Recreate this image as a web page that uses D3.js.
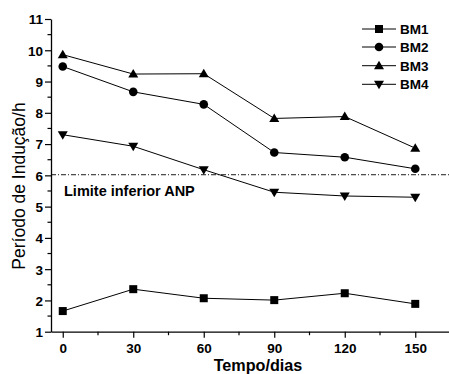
<!DOCTYPE html>
<html>
<head>
<meta charset="utf-8">
<script src="https://cdn.jsdelivr.net/npm/d3@7"></script>
<style>
  body { margin: 0; background: #fff; }
  text { font-family: "Liberation Sans", Arial, sans-serif; }
</style>
</head>
<body>
<div id="viz"></div>
<script>
var days = [0, 30, 60, 90, 120, 150];
var bm1 = [1.66, 2.36, 2.07, 2.01, 2.23, 1.89];
var bm2 = [9.48, 8.67, 8.27, 6.73, 6.58, 6.21];
var bm3 = [9.86, 9.24, 9.25, 7.82, 7.88, 6.87];
var bm4 = [7.30, 6.93, 6.18, 5.46, 5.34, 5.30];
var seriesNames = ["BM1", "BM2", "BM3", "BM4"];
var limitValue = 6.02;
var xTicks = [0, 30, 60, 90, 120, 150];
var yTicks = [1, 2, 3, 4, 5, 6, 7, 8, 9, 10, 11];

var width = 449, height = 374;
var svg = d3.select("#viz").append("svg").attr("width", width).attr("height", height);

var x = d3.scaleLinear().domain([-5, 165]).range([51, 450.5]);
var y = d3.scaleLinear().domain([1, 11]).range([331.7, 19]);

var series = [
  {name: seriesNames[0], values: bm1, shape: "square"},
  {name: seriesNames[1], values: bm2, shape: "circle"},
  {name: seriesNames[2], values: bm3, shape: "up"},
  {name: seriesNames[3], values: bm4, shape: "down"}
];

// axes
var xAxis = d3.axisBottom(x).tickValues(xTicks).tickSize(6).tickSizeOuter(0);
var yAxis = d3.axisLeft(y).tickValues(yTicks).tickSize(6).tickSizeOuter(0);

var gx = svg.append("g").attr("transform", "translate(0," + y(1) + ")").call(xAxis);
var gy = svg.append("g").attr("transform", "translate(" + x(-5) + ",0)").call(yAxis);

[gx, gy].forEach(function(g) {
  g.select(".domain").attr("stroke", "#000").attr("stroke-width", 1.3);
  g.selectAll(".tick line").attr("stroke", "#000").attr("stroke-width", 1.2);
  g.selectAll(".tick text").attr("fill", "#000").style("font-size", "13.5px").style("font-weight", "bold");
});
gx.selectAll(".tick text").attr("y", 21).attr("dy", 0);
gy.selectAll(".tick text").attr("x", -8).attr("dy", "0.36em");

// minor ticks
var xMinor = d3.range(15, 165, 30);
gx.selectAll(".minor").data(xMinor).enter().append("line")
    .attr("x1", function(d) { return x(d); }).attr("x2", function(d) { return x(d); })
    .attr("y1", 0).attr("y2", 3.5).attr("stroke", "#000").attr("stroke-width", 1.2);
var yMinor = d3.range(1.5, 11, 1);
gy.selectAll(".minor").data(yMinor).enter().append("line")
    .attr("y1", function(d) { return y(d); }).attr("y2", function(d) { return y(d); })
    .attr("x1", 0).attr("x2", -3.5).attr("stroke", "#000").attr("stroke-width", 1.2);

// axis titles
svg.append("text")
    .attr("x", 258).attr("y", 371)
    .attr("text-anchor", "middle")
    .style("font-size", "16.2px").style("font-weight", "bold")
    .text("Tempo/dias");

svg.append("text")
    .attr("transform", "translate(25,186) rotate(-90)")
    .attr("text-anchor", "middle")
    .style("font-size", "17.5px")
    .text("Período de Indução/h");

// limit line
svg.append("line")
    .attr("x1", x(-5)).attr("x2", width)
    .attr("y1", y(limitValue)).attr("y2", y(limitValue))
    .attr("stroke", "#000").attr("stroke-width", 0.9)
    .attr("stroke-dasharray", "5,2,1,2");

svg.append("text")
    .attr("x", 64).attr("y", 196)
    .style("font-size", "14.5px").style("font-weight", "bold")
    .text("Limite inferior ANP");

// markers
function drawMarker(g, shape) {
  if (shape == "square") {
    g.append("rect").attr("x", -4).attr("y", -4).attr("width", 8).attr("height", 8).attr("fill", "#000");
  } else if (shape == "circle") {
    g.append("circle").attr("r", 4.3).attr("fill", "#000");
  } else if (shape == "up") {
    g.append("path").attr("d", "M0,-5 L5,3.5 L-5,3.5 Z").attr("fill", "#000");
  } else {
    g.append("path").attr("d", "M0,5 L5,-3.5 L-5,-3.5 Z").attr("fill", "#000");
  }
}

var line = d3.line()
    .x(function(d, i) { return x(days[i]); })
    .y(function(d) { return y(d); });

series.forEach(function(s) {
  svg.append("path")
      .attr("d", line(s.values))
      .attr("fill", "none").attr("stroke", "#000").attr("stroke-width", 1);
  s.values.forEach(function(v, i) {
    var g = svg.append("g").attr("transform", "translate(" + x(days[i]) + "," + y(v) + ")");
    drawMarker(g, s.shape);
  });
});

// legend
var legendY = [29, 47, 65.7, 84.3];
series.forEach(function(s, i) {
  var lg = svg.append("g").attr("transform", "translate(0," + legendY[i] + ")");
  lg.append("line").attr("x1", 362).attr("x2", 396).attr("y1", 0).attr("y2", 0)
      .attr("stroke", "#000").attr("stroke-width", 1);
  var m = lg.append("g").attr("transform", "translate(379,0)");
  drawMarker(m, s.shape);
  lg.append("text").attr("x", 400).attr("y", 0).attr("dy", "0.36em")
      .style("font-size", "13.5px").style("font-weight", "bold")
      .text(s.name);
});
</script>
</body>
</html>
